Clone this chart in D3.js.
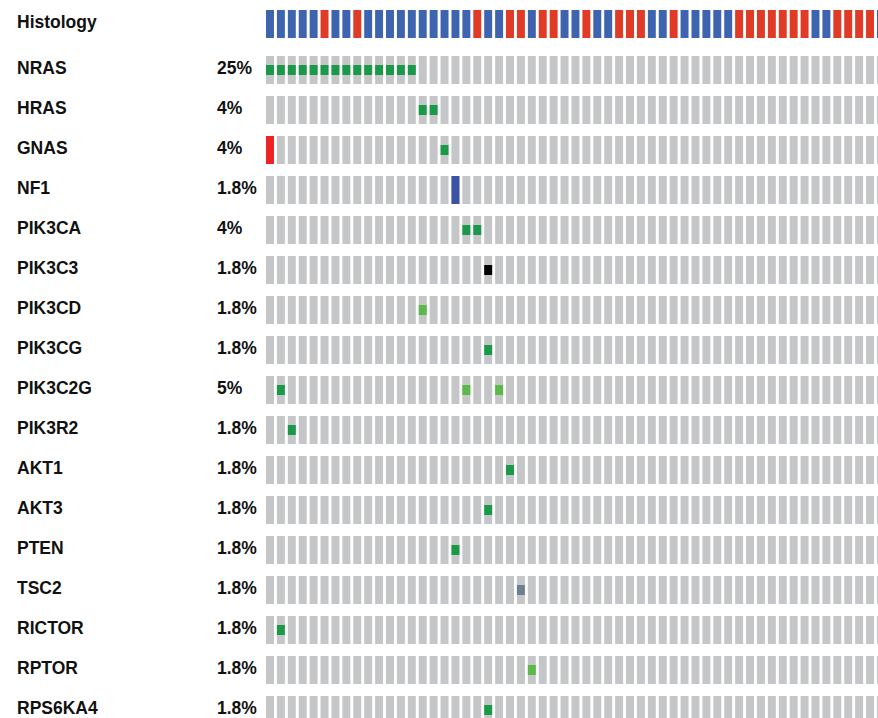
<!DOCTYPE html>
<html>
<head>
<meta charset="utf-8">
<script src="https://cdn.jsdelivr.net/npm/d3@7"></script>
<style>
    body { margin: 0; background: #fff; }
    text { font-family: "Liberation Sans", Arial, sans-serif; font-weight: bold; fill: #111; }
</style>
</head>
<body>
<svg id="chart" width="878" height="718"></svg>
<script>
// genes shown in the oncoprint, top to bottom
const genes = ["NRAS", "HRAS", "GNAS", "NF1", "PIK3CA", "PIK3C3", "PIK3CD", "PIK3CG",
    "PIK3C2G", "PIK3R2", "AKT1", "AKT3", "PTEN", "TSC2", "RICTOR", "RPTOR", "RPS6KA4"];

// altered fraction label per gene
const percents = ["25%", "4%", "4%", "1.8%", "4%", "1.8%", "1.8%", "1.8%",
    "5%", "1.8%", "1.8%", "1.8%", "1.8%", "1.8%", "1.8%", "1.8%", "1.8%"];

// histology of each of the 57 samples (a = blue, b = red)
const histology = ["a", "a", "a", "a", "a", "b", "a", "a", "b", "a",
    "a", "a", "a", "a", "a", "a", "a", "a", "a", "b",
    "a", "a", "b", "b", "a", "b", "b", "a", "a", "b",
    "a", "a", "b", "b", "b", "a", "a", "b", "a", "a",
    "a", "a", "a", "b", "b", "b", "b", "b", "b", "b",
    "a", "a", "b", "b", "b", "b", "a"];

// alterations: [gene, sample index, type]
const alterations = [
    ["NRAS", 0, "missense"], ["NRAS", 1, "missense"], ["NRAS", 2, "missense"], ["NRAS", 3, "missense"],
    ["NRAS", 4, "missense"], ["NRAS", 5, "missense"], ["NRAS", 6, "missense"], ["NRAS", 7, "missense"],
    ["NRAS", 8, "missense"], ["NRAS", 9, "missense"], ["NRAS", 10, "missense"], ["NRAS", 11, "missense"],
    ["NRAS", 12, "missense"], ["NRAS", 13, "missense"],
    ["HRAS", 14, "missense"], ["HRAS", 15, "missense"],
    ["GNAS", 0, "amp"], ["GNAS", 16, "missense"],
    ["NF1", 17, "del"],
    ["PIK3CA", 18, "missense"], ["PIK3CA", 19, "missense"],
    ["PIK3C3", 20, "truncating"],
    ["PIK3CD", 14, "inframe"],
    ["PIK3CG", 20, "missense"],
    ["PIK3C2G", 1, "missense"], ["PIK3C2G", 18, "inframe"], ["PIK3C2G", 21, "inframe"],
    ["PIK3R2", 2, "missense"],
    ["AKT1", 22, "missense"],
    ["AKT3", 20, "missense"],
    ["PTEN", 17, "missense"],
    ["TSC2", 23, "other"],
    ["RICTOR", 1, "missense"],
    ["RPTOR", 24, "inframe"],
    ["RPS6KA4", 20, "missense"]
];

const histColor = {a: "#3e64b0", b: "#e03b26"};
const altColor = {
    missense: "#1a9a48",
    inframe: "#5ab947",
    truncating: "#000000",
    other: "#6d7f91",
    amp: "#ef2325",
    del: "#3a53a4"
};
const fullHeight = {amp: true, del: true};

/** Draws the oncoprint grid. */
class Oncoprint {
    constructor(svg) {
        this.svg = svg;
        let step = 10.91, pad = 0.27, left = 266;
        this.x = d3.scaleBand()
            .domain(d3.range(histology.length))
            .range([left, left + step * (histology.length - pad)])
            .paddingInner(pad)
            .paddingOuter(0);
        let rowStep = 40, rowPad = 0.3, top = 56;
        this.y = d3.scaleBand()
            .domain(genes)
            .range([top, top + rowStep * (genes.length - rowPad)])
            .paddingInner(rowPad)
            .paddingOuter(0);
    }

    render() {
        let x = this.x, y = this.y;
        let bh = y.bandwidth();

        // histology track
        this.svg.append("text")
            .attr("x", 17).attr("y", 27.5)
            .style("font-size", "17.5px")
            .text("Histology");

        this.svg.append("g").selectAll("rect")
            .data(histology)
            .join("rect")
            .attr("x", (d, i) => x(i))
            .attr("y", 10)
            .attr("width", x.bandwidth())
            .attr("height", bh)
            .attr("fill", d => histColor[d]);

        // gene labels and percentages
        let labels = this.svg.append("g").selectAll("g")
            .data(genes)
            .join("g");

        labels.append("text")
            .attr("x", 17)
            .attr("y", d => y(d) + 18)
            .style("font-size", "17.5px")
            .text(d => d);

        labels.append("text")
            .attr("x", 217)
            .attr("y", d => y(d) + 18)
            .style("font-size", "17.5px")
            .text((d, i) => percents[i]);

        // grey background cells
        let cells = [];
        genes.forEach(g => histology.forEach((h, i) => cells.push({gene: g, sample: i})));

        this.svg.append("g").selectAll("rect")
            .data(cells)
            .join("rect")
            .attr("x", d => x(d.sample))
            .attr("y", d => y(d.gene))
            .attr("width", x.bandwidth())
            .attr("height", bh)
            .attr("fill", "#c5c6c8");

        // alteration marks
        this.svg.append("g").selectAll("rect")
            .data(alterations)
            .join("rect")
            .attr("x", d => x(d[1]))
            .attr("y", d => fullHeight[d[2]] ? y(d[0]) : y(d[0]) + 9)
            .attr("width", x.bandwidth())
            .attr("height", d => fullHeight[d[2]] ? bh : 10)
            .attr("fill", d => altColor[d[2]]);
    }
}

let chart = new Oncoprint(d3.select("#chart"));
chart.render();
</script>
</body>
</html>
